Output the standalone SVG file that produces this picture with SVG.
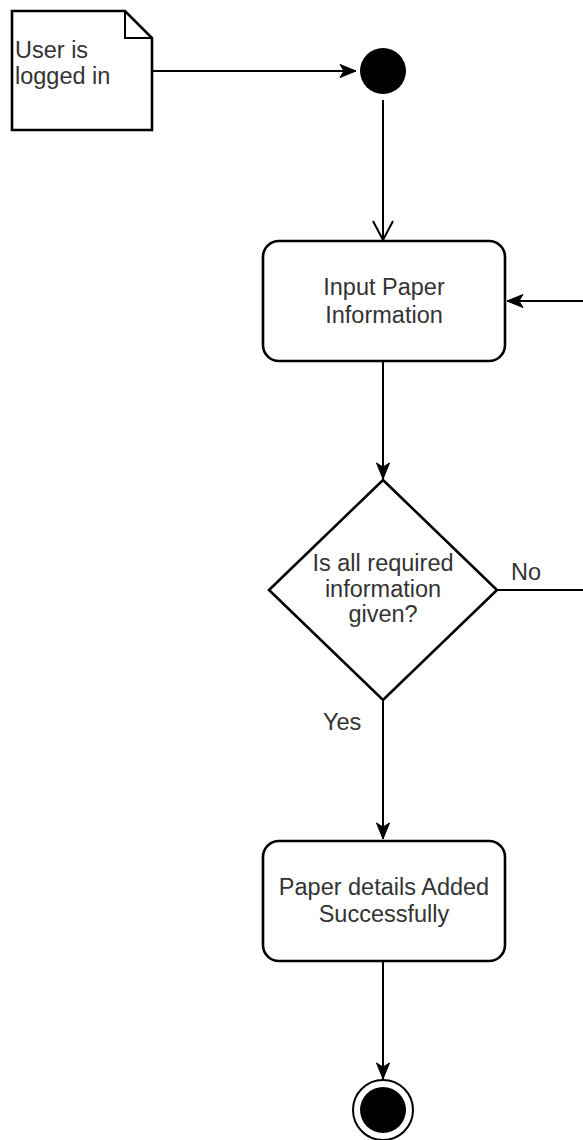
<svg xmlns="http://www.w3.org/2000/svg" width="583" height="1140" viewBox="0 0 583 1140">
  <style>
    .txt { font-family: "Liberation Sans", Arial, sans-serif; font-size: 23.5px; fill: #333333; }
    .mid { text-anchor: middle; }
    .shape { fill: #ffffff; stroke: #000000; stroke-width: 2.6; }
    .edge { fill: none; stroke: #000000; stroke-width: 2; }
  </style>
  <defs>
    <marker id="arr" viewBox="0 0 18 14" markerWidth="18" markerHeight="14" refX="17" refY="7" orient="auto" markerUnits="userSpaceOnUse">
      <path d="M1,0.5 L17,7 L1,13.5 L5,7 Z" fill="#000000" stroke="#000000" stroke-width="1"/>
    </marker>
    <marker id="open" viewBox="0 0 22 22" markerWidth="22" markerHeight="22" refX="20" refY="11" orient="auto" markerUnits="userSpaceOnUse">
      <path d="M1,1 L20,11 L1,21" fill="none" stroke="#000000" stroke-width="2"/>
    </marker>
  </defs>

  <g id="connectors">
    <path class="edge" d="M152,71 L356,71" marker-end="url(#arr)"/>
    <path class="edge" d="M383,100 L383,240" marker-end="url(#open)"/>
    <path class="edge" d="M383,362 L383,479" marker-end="url(#arr)"/>
    <path class="edge" d="M497,590 L600,590 L600,301 L507,301" marker-end="url(#arr)"/>
    <path class="edge" d="M383,700 L383,839" marker-end="url(#arr)"/>
    <path class="edge" d="M383,962 L383,1079" marker-end="url(#arr)"/>
    <text class="txt" x="511" y="580">No</text>
    <text class="txt" x="323" y="730">Yes</text>
  </g>

  <g id="note">
    <path class="shape" d="M12,11 L125,11 L152,38 L152,130 L12,130 Z" stroke-width="2"/>
    <path d="M125,11 L125,38 L152,38" fill="none" stroke="#000000" stroke-width="2"/>
    <text class="txt" x="15" y="58">User is</text>
    <text class="txt" x="15" y="84">logged in</text>
  </g>

  <g id="start">
    <circle cx="383" cy="71" r="23" fill="#000000"/>
  </g>

  <g id="input">
    <rect class="shape" x="263" y="241" width="242" height="120" rx="16" ry="16"/>
    <text class="txt mid" x="384" y="295">Input Paper</text>
    <text class="txt mid" x="384" y="323">Information</text>
  </g>

  <g id="decision">
    <path class="shape" d="M383,480 L497,590 L383,700 L269,590 Z"/>
    <text class="txt mid" x="383" y="571">Is all required</text>
    <text class="txt mid" x="383" y="597">information</text>
    <text class="txt mid" x="383" y="622">given?</text>
  </g>

  <g id="done">
    <rect class="shape" x="263" y="841" width="242" height="120" rx="16" ry="16"/>
    <text class="txt mid" x="384" y="895">Paper details Added</text>
    <text class="txt mid" x="384" y="922">Successfully</text>
  </g>

  <g id="end">
    <circle cx="383" cy="1110" r="30" fill="#ffffff" stroke="#000000" stroke-width="2"/>
    <circle cx="383" cy="1110" r="23" fill="#000000"/>
  </g>
</svg>
